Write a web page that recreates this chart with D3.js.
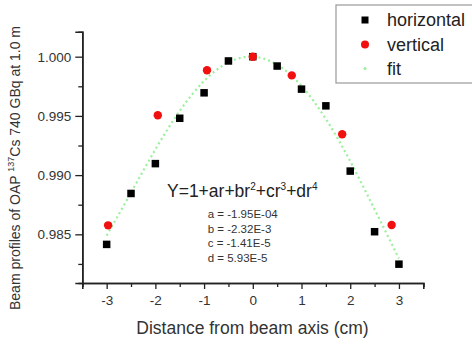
<!DOCTYPE html>
<html><head><meta charset="utf-8">
<script src="https://cdn.jsdelivr.net/npm/d3@7"></script>
<style>body{margin:0;background:#fff;}svg{display:block;font-family:"Liberation Sans",Arial,sans-serif;}</style>
</head><body>
<script>
// Data
const horizX = [-3, -2.5, -2, -1.5, -1, -0.5, 0, 0.5, 1, 1.5, 2, 2.5, 3];
const horizY = [0.98415, 0.98845, 0.99097, 0.9948, 0.99695, 0.99964, 1.0000, 0.99921, 0.99726, 0.99585, 0.99034, 0.98522, 0.98248];
const vertX = [-2.97, -1.95, -0.94, 0, 0.8, 1.835, 2.85];
const vertY = [0.98576, 0.99506, 0.99885, 1.0000, 0.99842, 0.99345, 0.98579];
const fitX = [-3, -2.5, -2, -1.5, -1, -0.5, 0, 0.5, 1, 1.5, 2, 2.5, 3];
const fitY = [0.98489, 0.98852, 0.99217, 0.99542, 0.99795, 0.99952, 1.0000, 0.99932, 0.99753, 0.99474, 0.99117, 0.98711, 0.98296];
const xMajor = [-3, -2, -1, 0, 1, 2, 3];
const xMinor = [-3.5, -2.5, -1.5, -0.5, 0.5, 1.5, 2.5, 3.5];
const yMajor = [0.985, 0.990, 0.995, 1.000];
const yMinor = [0.9825, 0.9875, 0.9925, 0.9975];
const coefLines = ["a = -1.95E-04", "b = -2.32E-3", "c = -1.41E-5", "d = 5.93E-5"];
const legendItems = ["horizontal", "vertical", "fit"];

const W = 472, H = 344;
const svg = d3.select("body").append("svg").attr("width", W).attr("height", H);
const x = d3.scaleLinear().domain([-3.5, 3.5]).range([82.3, 423.3]);
const y = d3.scaleLinear().domain([0.98089, 1.00211]).range([283, 31.7]);
const axisCol = "#222", txtCol = "#333";

// Axes
const gx = svg.append("g").attr("transform", `translate(0,${y.range()[0]})`);
gx.call(d3.axisBottom(x).tickValues(xMinor).tickSize(4).tickFormat(""));
gx.call(g => g.append("g").call(d3.axisBottom(x).tickValues(xMajor).tickSize(6).tickPadding(6).tickFormat(d => String(d))));
gx.selectAll("path.domain").attr("stroke", axisCol).attr("stroke-width", 1.6);
gx.selectAll("line").attr("stroke", axisCol).attr("stroke-width", 1.3);
gx.selectAll("text").attr("fill", txtCol).style("font-size", "13.5px").style("font-family", "Liberation Sans, Arial, sans-serif");

const gy = svg.append("g").attr("transform", `translate(${x.range()[0]},0)`);
gy.call(d3.axisLeft(y).tickValues(yMinor).tickSize(4).tickFormat(""));
gy.call(g => g.append("g").call(d3.axisLeft(y).tickValues(yMajor).tickSize(7).tickPadding(4).tickFormat(d3.format(".3f"))));
gy.selectAll("path.domain").attr("stroke", axisCol).attr("stroke-width", 1.6);
gy.selectAll("line").attr("stroke", axisCol).attr("stroke-width", 1.3);
gy.selectAll("text").attr("fill", txtCol).style("font-size", "13.5px").style("font-family", "Liberation Sans, Arial, sans-serif");

// Axis titles
svg.append("text").attr("x", 252.5).attr("y", 334).attr("text-anchor", "middle")
  .attr("fill", txtCol).style("font-size", "17.5px").text("Distance from beam axis (cm)");
const yt = svg.append("text").attr("transform", "translate(20,168) rotate(-90)").attr("text-anchor", "middle")
  .attr("fill", txtCol).style("font-size", "14px");
yt.append("tspan").text("Beam profiles of OAP ");
yt.append("tspan").attr("dy", -6).style("font-size", "9px").text("137");
yt.append("tspan").attr("dy", 6).text("Cs 740 GBq at 1.0 m");

// Fit line (dotted)
const fitData = fitX.map((v, i) => [v, fitY[i]]);
svg.append("path").datum(fitData)
  .attr("d", d3.line().x(d => x(d[0])).y(d => y(d[1])).curve(d3.curveNatural))
  .attr("fill", "none").attr("stroke", "#9cef9c").attr("stroke-width", 2.2).attr("stroke-dasharray", "2,3");

// Horizontal squares
const sq = 7.5;
svg.append("g").selectAll("rect").data(horizX.map((v, i) => [v, horizY[i]])).join("rect")
  .attr("x", d => x(d[0]) - sq/2).attr("y", d => y(d[1]) - sq/2).attr("width", sq).attr("height", sq).attr("fill", "#000");
// Vertical circles
svg.append("g").selectAll("circle").data(vertX.map((v, i) => [v, vertY[i]])).join("circle")
  .attr("cx", d => x(d[0])).attr("cy", d => y(d[1])).attr("r", 4.2).attr("fill", "#f01010");

// Equation
const eq = svg.append("text").attr("x", 167).attr("y", 197).attr("fill", "#222").style("font-size", "17.5px");
eq.append("tspan").text("Y=1+ar+br");
eq.append("tspan").attr("dy", -7).style("font-size", "10px").text("2");
eq.append("tspan").attr("dy", 7).text("+cr");
eq.append("tspan").attr("dy", -7).style("font-size", "10px").text("3");
eq.append("tspan").attr("dy", 7).text("+dr");
eq.append("tspan").attr("dy", -7).style("font-size", "10px").text("4");
svg.append("g").selectAll("text").data(coefLines).join("text")
  .attr("x", 207.7).attr("y", (d, i) => 218 + i * 14.6).attr("fill", "#333").style("font-size", "11.5px").text(d => d);

// Legend
svg.append("rect").attr("x", 336).attr("y", 5).attr("width", 150).attr("height", 78)
  .attr("fill", "#fff").attr("stroke", "#999").attr("stroke-width", 1.2);
const lg = svg.append("g");
const ly = [20, 44.5, 68.5];
lg.append("rect").attr("x", 365 - 3.5).attr("y", ly[0] - 3.5).attr("width", 7).attr("height", 7).attr("fill", "#000");
lg.append("circle").attr("cx", 365).attr("cy", ly[1]).attr("r", 4).attr("fill", "#f01010");
lg.append("circle").attr("cx", 365).attr("cy", ly[2]).attr("r", 1.5).attr("fill", "#9cef9c");
lg.selectAll("text").data(legendItems).join("text")
  .attr("x", 387).attr("y", (d, i) => ly[i] + 6).attr("fill", "#222").style("font-size", "18px").text(d => d);
</script>
</body></html>
